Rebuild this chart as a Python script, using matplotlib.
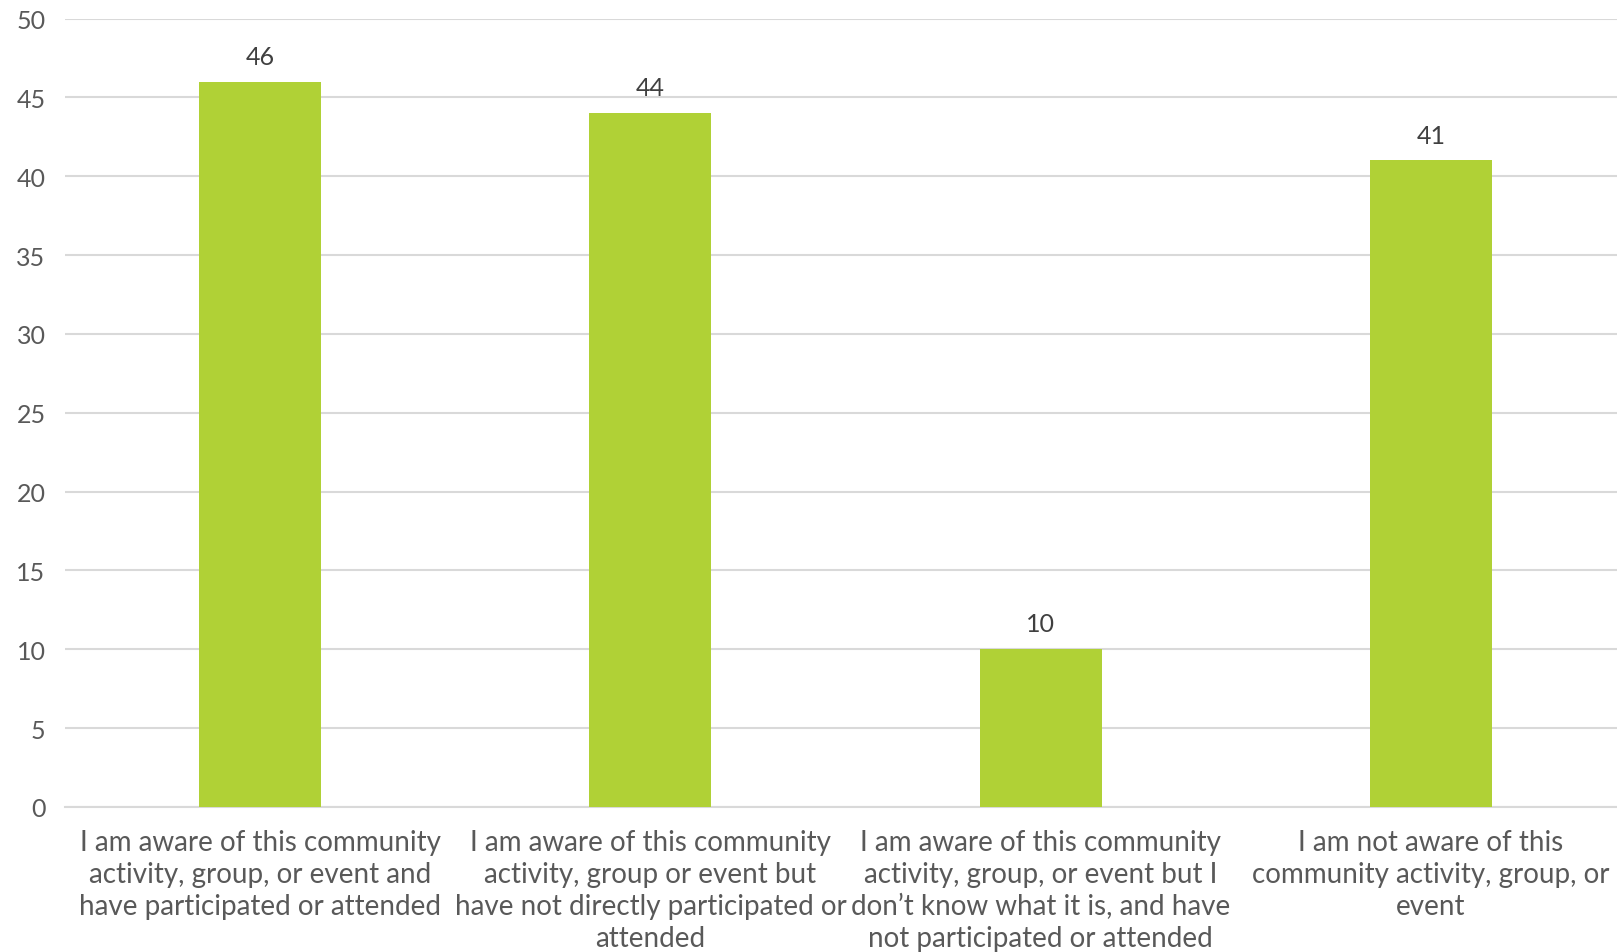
import matplotlib
matplotlib.use("Agg")
import matplotlib.pyplot as plt

categories = [
    "I am aware of this community\nactivity, group, or event and\nhave participated or attended",
    "I am aware of this community\nactivity, group or event but\nhave not directly participated or\nattended",
    "I am aware of this community\nactivity, group, or event but I\ndon\u2019t know what it is, and have\nnot participated or attended",
    "I am not aware of this\ncommunity activity, group, or\nevent",
]
values = [46, 44, 10, 41]
yticks = [0, 5, 10, 15, 20, 25, 30, 35, 40, 45, 50]

plt.rcParams['font.family'] = ['Lato', 'DejaVu Sans']

fig = plt.figure(figsize=(16.17, 9.53), dpi=100)
ax = fig.add_axes([65/1617, 145/953, 1561/1617, 788.5/953])

x = list(range(len(values)))
bars = ax.bar(x, values, width=0.313, color='#B0D136', zorder=3)
for xi, v in zip(x, values):
    ax.annotate(str(v), (xi, v), xytext=(0, 10), textcoords='offset points',
                ha='center', va='bottom', fontsize=18, color='#404040')

ax.set_xlim(-0.5, len(values) - 0.5)
ax.set_ylim(0, 50)
ax.set_yticks(yticks)
ax.set_yticklabels([str(t) for t in yticks], fontsize=18, color='#595959')
ax.set_xticks(x)
ax.set_xticklabels(categories, fontsize=20, color='#595959', linespacing=1.29)
ax.tick_params(axis='y', length=0, pad=14)
ax.tick_params(axis='x', length=0, pad=15.5)
ax.grid(axis='y', color='#D9D9D9', linewidth=1.5, zorder=0)
for s in ['top', 'right', 'left']:
    ax.spines[s].set_visible(False)
ax.spines['bottom'].set_color('#D9D9D9')
ax.spines['bottom'].set_linewidth(1.5)

fig.savefig('out.png', dpi=100)
